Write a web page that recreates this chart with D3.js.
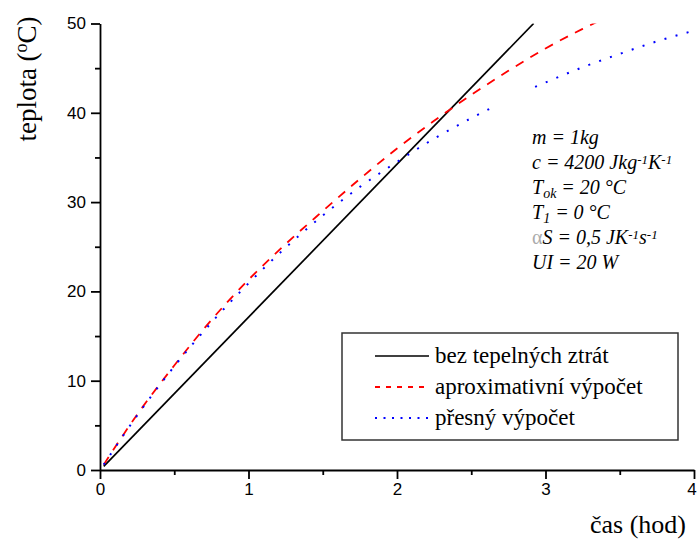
<!DOCTYPE html>
<html>
<head>
<meta charset="utf-8">
<script src="https://cdn.jsdelivr.net/npm/d3@7"></script>
<style>
  body { margin: 0; background: #fff; }
  svg { display: block; }
</style>
</head>
<body>
<svg id="chart" width="697" height="540"></svg>
<script>
// time in hours, temperature in °C
const noLossT = [0.025, 2.92]
const noLossV = [0.4, 50]

const approxT = [0.025, 0.25, 0.5, 0.75, 1.0, 1.25, 1.5, 1.75, 2.0, 2.25, 2.5, 2.75, 3.0, 3.25, 3.35]
const approxV = [0.6, 6.2, 11.7, 16.8, 21.3, 25.3, 29.0, 32.6, 36.0, 39.1, 42.0, 44.7, 47.2, 49.4, 50.2]

// exact solution is drawn in two pieces (gap in the original)
const exactT1 = [0.025, 0.25, 0.5, 0.75, 1.0, 1.25, 1.5, 1.75, 2.0, 2.25, 2.5, 2.63]
const exactV1 = [0.6, 6.1, 11.6, 16.5, 20.9, 24.9, 28.5, 31.7, 34.5, 37.1, 39.4, 40.5]
const exactT2 = [2.93, 3.25, 3.5, 3.75, 4.0]
const exactV2 = [42.9, 45.1, 46.6, 48.0, 49.2]

const xTicks = [0, 1, 2, 3, 4]
const yTicks = [0, 10, 20, 30, 40, 50]

const legendLabels = ['bez tepelných ztrát', 'aproximativní výpočet', 'přesný výpočet']

const serif = "'Liberation Serif', 'DejaVu Serif', serif"
const sans = "'Liberation Sans', Arial, sans-serif"

const svg = d3.select('#chart')
const width = 697, height = 540
const margin = { top: 23.5, left: 100 }

const x = d3.scaleLinear().domain([0, 4]).range([margin.left, 694])
const y = d3.scaleLinear().domain([0, 50]).range([470, margin.top])

svg.append('rect').attr('width', width).attr('height', height).attr('fill', '#fff')

svg.append('defs').append('clipPath').attr('id', 'plot')
  .append('rect')
  .attr('x', x(0)).attr('y', y(50))
  .attr('width', x(4) - x(0) + 3).attr('height', y(0) - y(50))

const zip = (ts, vs) => ts.map((t, i) => [t, vs[i]])
const line = d3.line().x(d => x(d[0])).y(d => y(d[1])).curve(d3.curveMonotoneX)

const series = [
  { data: zip(noLossT, noLossV), color: '#000', dash: null, legendDash: null, w: 1.7 },
  { data: zip(approxT, approxV), color: '#ff0000', dash: '9,8', legendDash: '5,6', w: 1.8 },
  { data: zip(exactT1, exactV1), color: '#0000ff', dash: '2,9.5', legendDash: '2,6.5', w: 2 },
  { data: zip(exactT2, exactV2), color: '#0000ff', dash: '2,9.5', legendDash: '2,6.5', w: 2 }
]

const plot = svg.append('g').attr('clip-path', 'url(#plot)')
series.forEach(s => {
  plot.append('path')
    .attr('d', line(s.data))
    .attr('fill', 'none')
    .attr('stroke', s.color)
    .attr('stroke-width', s.w)
    .attr('stroke-dasharray', s.dash)
})

// axes
svg.append('g')
  .attr('transform', `translate(0,${y(0)})`)
  .call(d3.axisBottom(x).tickValues(xTicks).tickFormat(d3.format('d')).tickSize(9).tickSizeOuter(0).tickPadding(4))
  // the last label sits on the page edge; nudge it in a little
  .call(g => g.selectAll('.tick text').filter(d => d === 4).attr('dx', -2.5))
const xMinor = svg.append('g')
  .attr('transform', `translate(0,${y(0)})`)
  .call(d3.axisBottom(x).tickValues([0.5, 1.5, 2.5, 3.5]).tickFormat('').tickSize(5).tickSizeOuter(0))
xMinor.select('.domain').remove()

svg.append('g')
  .attr('transform', `translate(${x(0)},0)`)
  .call(d3.axisLeft(y).tickValues(yTicks).tickSize(9).tickSizeOuter(0).tickPadding(5))
const yMinor = svg.append('g')
  .attr('transform', `translate(${x(0)},0)`)
  .call(d3.axisLeft(y).tickValues([5, 15, 25, 35, 45]).tickFormat('').tickSize(5).tickSizeOuter(0))
yMinor.select('.domain').remove()

svg.selectAll('.domain, .tick line').attr('stroke', '#000').attr('stroke-width', 1.8)
svg.selectAll('.tick text')
  .attr('fill', '#000')
  .attr('font-family', sans)
  .attr('font-size', 17)

// axis titles
const yTitle = svg.append('text')
  .attr('transform', 'translate(36,79) rotate(-90)')
  .attr('text-anchor', 'middle')
  .attr('font-family', serif)
  .attr('font-size', 27)
yTitle.append('tspan').text('teplota (')
yTitle.append('tspan').attr('dy', -9).attr('font-size', 18).text('o')
yTitle.append('tspan').attr('dy', 9).text('C)')

svg.append('text')
  .attr('x', 686).attr('y', 533)
  .attr('text-anchor', 'end')
  .attr('font-family', serif)
  .attr('font-size', 26)
  .text('čas (hod)')

// parameters block
const params = [
  [['m = 1kg', 0]],
  [['c = 4200 Jkg', 0], ['-1', 1], ['K', 0], ['-1', 1]],
  [['T', 0], ['ok', -1], [' = 20 °C', 0]],
  [['T', 0], ['1', -1], [' = 0 °C', 0]],
  [['α', 2], ['S = 0,5 JK', 0], ['-1', 1], ['s', 0], ['-1', 1]],
  [['UI = 20 W', 0]]
]
params.forEach((row, i) => {
  const t = svg.append('text')
    .attr('x', 532).attr('y', 144 + i * 24.9)
    .attr('font-family', serif)
    .attr('font-style', 'italic')
    .attr('font-size', 20)
    .attr('fill', '#000')
  row.forEach(([s, kind]) => {
    const ts = t.append('tspan').text(s)
    if (kind === 1) ts.attr('baseline-shift', '40%').attr('font-size', 13)
    if (kind === -1) ts.attr('baseline-shift', '-25%').attr('font-size', 14)
    if (kind === 2) ts.attr('fill', '#aaa').attr('font-style', 'normal')
  })
})

// legend
const lg = svg.append('g')
lg.append('rect')
  .attr('x', 342).attr('y', 333)
  .attr('width', 336).attr('height', 107)
  .attr('fill', '#fff')
  .attr('stroke', '#333').attr('stroke-width', 1.5)

legendLabels.forEach((lab, i) => {
  const s = series[i]
  const ly = 356 + i * 31
  lg.append('line')
    .attr('x1', 375).attr('x2', 429)
    .attr('y1', ly).attr('y2', ly)
    .attr('stroke', s.color)
    .attr('stroke-width', s.w)
    .attr('stroke-dasharray', s.legendDash)
  lg.append('text')
    .attr('x', 435).attr('y', ly + 7)
    .attr('font-family', serif)
    .attr('font-size', 23)
    .text(lab)
})
</script>
</body>
</html>
